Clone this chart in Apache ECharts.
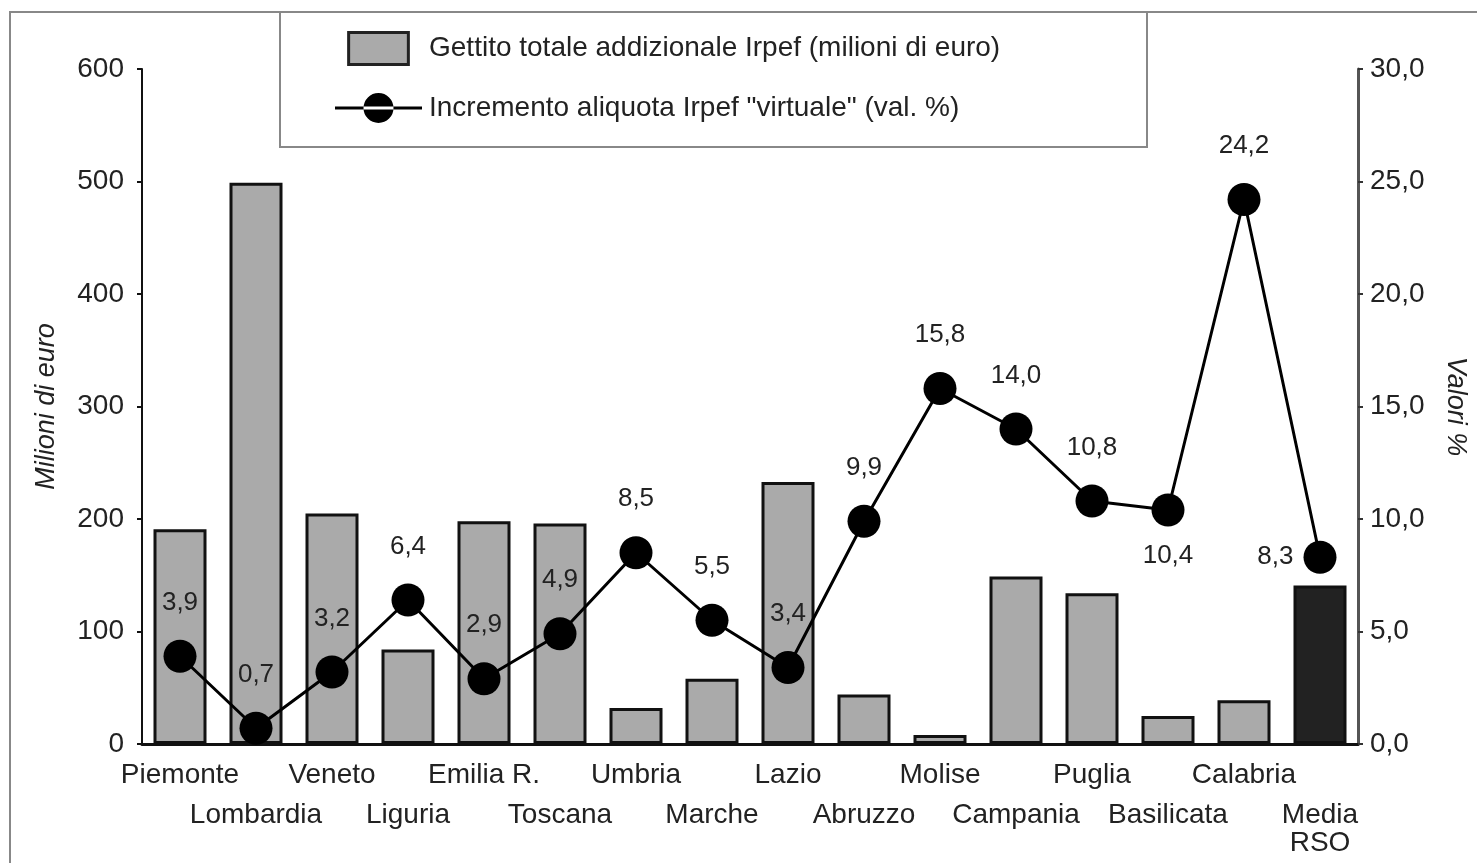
<!DOCTYPE html>
<html>
<head>
<meta charset="utf-8">
<title>Gettito addizionale Irpef</title>
<script src="https://cdn.jsdelivr.net/npm/echarts@6/dist/echarts.min.js"></script>
<style>
  html, body { margin: 0; padding: 0; background: #fff; }
  #chart { width: 1477px; height: 863px; }
</style>
</head>
<body>
<div id="chart"></div>
<script>
const regioni = ['Piemonte', 'Lombardia', 'Veneto', 'Liguria', 'Emilia R.', 'Toscana', 'Umbria', 'Marche',
  'Lazio', 'Abruzzo', 'Molise', 'Campania', 'Puglia', 'Basilicata', 'Calabria', 'Media\nRSO'];
const gettito = [191, 499, 205, 84, 198, 196, 32, 58, 233, 44, 8, 149, 134, 25, 39, 141];
const incremento = [3.9, 0.7, 3.2, 6.4, 2.9, 4.9, 8.5, 5.5, 3.4, 9.9, 15.8, 14.0, 10.8, 10.4, 24.2, 8.3];
const nomeBarre = 'Gettito totale addizionale Irpef (milioni di euro)';
const nomeLinea = 'Incremento aliquota Irpef "virtuale" (val. %)';

const font = "'Liberation Sans', Arial, Helvetica, sans-serif";
const virgola = v => v.toFixed(1).replace('.', ',');

let chart = echarts.init(document.getElementById('chart'));

let barData = gettito.map((v, i) => i === gettito.length - 1 ? { value: v, itemStyle: { color: '#222' } } : v);
let lineData = incremento.map((v, i) => {
  if (i === 13) return { value: v, label: { position: 'bottom', distance: 16 } };
  if (i === 15) return { value: v, label: { position: 'left', distance: 10 } };
  return v;
});

let option = {
  animation: false,
  textStyle: { fontFamily: font },
  graphic: [
    // cornice esterna e riquadro legenda
    { type: 'rect', shape: { x: 10, y: 12, width: 1480, height: 870 }, style: { fill: 'none', stroke: '#888', lineWidth: 2 }, silent: true },
    { type: 'rect', shape: { x: 280, y: 12, width: 867, height: 135 }, style: { fill: '#fff', stroke: '#888', lineWidth: 2 }, silent: true }
  ],
  legend: {
    orient: 'vertical',
    left: 330,
    top: 26,
    itemWidth: 87,
    itemHeight: 32,
    itemGap: 27,
    textStyle: { fontSize: 28, color: '#222', padding: [0, 0, 0, 2] },
    data: [
      { name: nomeBarre, icon: 'path://M0 0H56V30H0Z', itemStyle: { color: '#aaa', borderColor: '#222', borderWidth: 3 } },
      { name: nomeLinea, icon: 'path://M0 14.5H87V17.5H0Z M28.5 16A15 15 0 1 0 58.5 16A15 15 0 1 0 28.5 16Z', itemStyle: { color: '#000', borderWidth: 0 } }
    ]
  },
  grid: { left: 142, right: 114, top: 69, bottom: 119 },
  xAxis: {
    type: 'category',
    data: regioni,
    axisLine: { lineStyle: { color: '#111', width: 3 } },
    axisTick: { show: false },
    axisLabel: {
      interval: 0,
      margin: 17,
      formatter: (value, index) => {
        let righe = value.split('\n').map(s => '{t|' + s + '}').join('\n');
        return index % 2 ? '{sp| }\n' + righe : righe;
      },
      rich: {
        t: { fontSize: 28, lineHeight: 28, color: '#222', fontFamily: font },
        sp: { fontSize: 10, lineHeight: 40 }
      }
    }
  },
  yAxis: [
    {
      type: 'value',
      min: 0,
      max: 600,
      interval: 100,
      name: 'Milioni di euro',
      nameLocation: 'middle',
      nameGap: 82,
      nameTextStyle: { fontSize: 27, fontStyle: 'italic', color: '#222' },
      axisLine: { show: true, lineStyle: { color: '#111', width: 2 } },
      axisTick: { show: true, length: 5, lineStyle: { color: '#111', width: 2 } },
      axisLabel: { fontSize: 28, color: '#222', margin: 18 },
      splitLine: { show: false }
    },
    {
      type: 'value',
      min: 0,
      max: 30,
      interval: 5,
      name: 'Valori %',
      nameLocation: 'middle',
      nameGap: 84,
      nameRotate: -90,
      nameTextStyle: { fontSize: 27, fontStyle: 'italic', color: '#222' },
      axisLine: { show: true, lineStyle: { color: '#555', width: 3 } },
      axisTick: { show: true, length: 5, lineStyle: { color: '#333', width: 2 } },
      axisLabel: { fontSize: 28, color: '#222', margin: 12, formatter: virgola },
      splitLine: { show: false }
    }
  ],
  series: [
    {
      name: nomeBarre,
      type: 'bar',
      barWidth: 53,
      data: barData,
      itemStyle: { color: '#aaa', borderColor: '#111', borderWidth: 3 }
    },
    {
      name: nomeLinea,
      type: 'line',
      yAxisIndex: 1,
      data: lineData,
      symbol: 'circle',
      symbolSize: 33,
      z: 5,
      lineStyle: { color: '#000', width: 3 },
      itemStyle: { color: '#000' },
      label: {
        show: true,
        position: 'top',
        distance: 24,
        fontSize: 26,
        color: '#222',
        formatter: p => virgola(p.value)
      }
    }
  ]
};

chart.setOption(option);
</script>
</body>
</html>
